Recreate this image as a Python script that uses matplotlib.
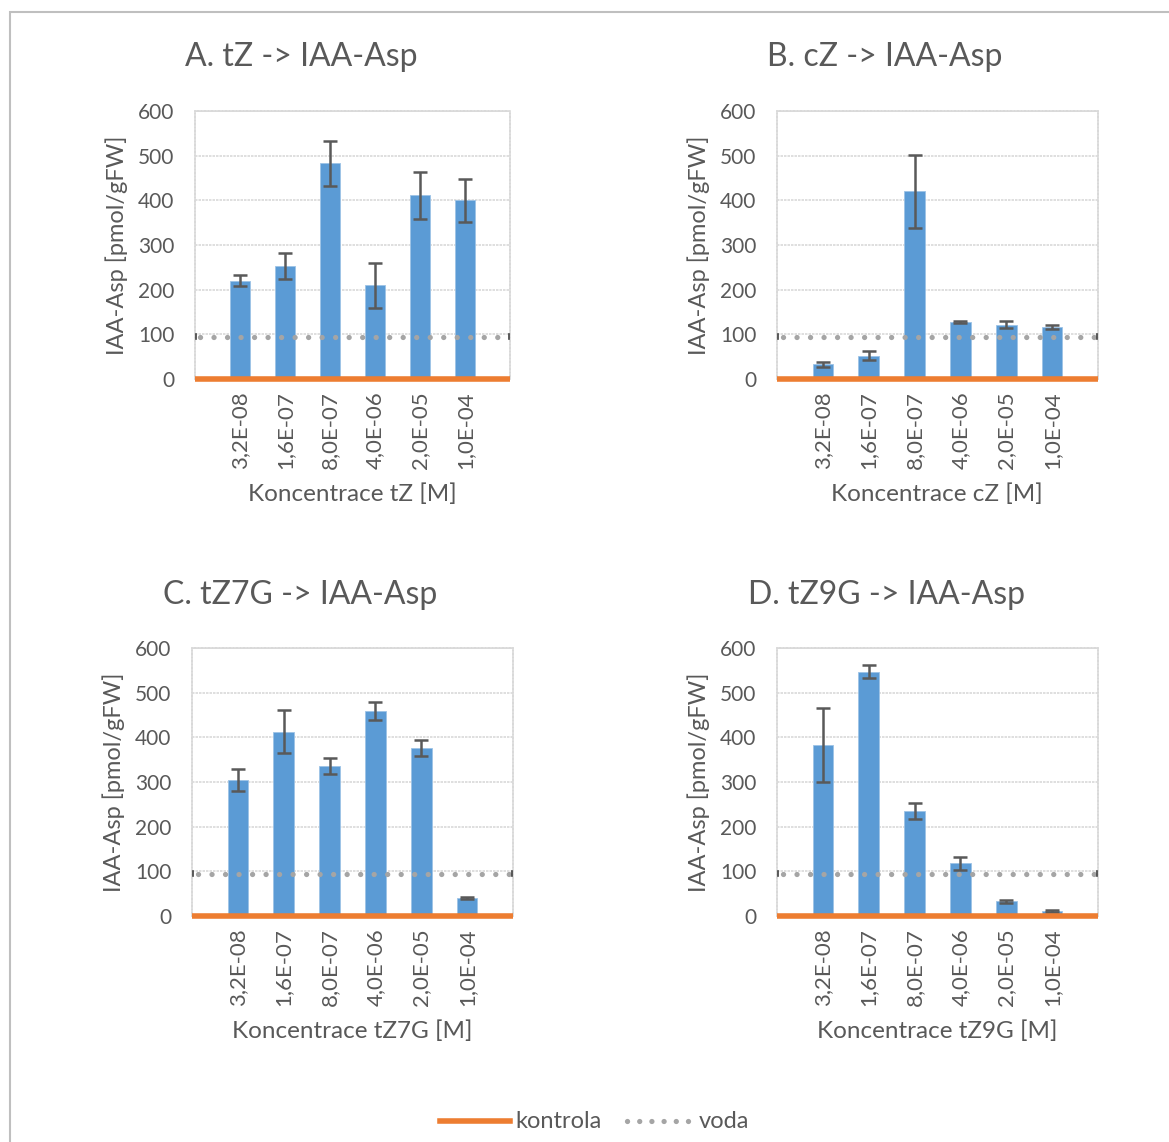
import matplotlib
matplotlib.use("Agg")
import matplotlib.pyplot as plt
from matplotlib.lines import Line2D
from matplotlib.patches import Rectangle

plt.rcParams['font.family'] = ['Lato', 'DejaVu Sans']

categories = ["3,2E-08", "1,6E-07", "8,0E-07", "4,0E-06", "2,0E-05", "1,0E-04"]

titles = ["A. tZ -> IAA-Asp", "B. cZ -> IAA-Asp", "C. tZ7G -> IAA-Asp", "D. tZ9G -> IAA-Asp"]
xlabels = ["Koncentrace tZ [M]", "Koncentrace cZ [M]", "Koncentrace tZ7G [M]", "Koncentrace tZ9G [M]"]

vals_A = [220, 253, 483, 210, 411, 400]
err_A = [12, 30, 50, 50, 52, 48]
vals_B = [33, 52, 420, 127, 122, 117]
err_B = [6, 10, 82, 2, 8, 5]
vals_C = [304, 413, 336, 459, 376, 40]
err_C = [25, 49, 18, 20, 18, 2]
vals_D = [383, 547, 235, 118, 33, 12]
err_D = [82, 14, 18, 15, 3, 2]

kontrola = 0
voda = 95

yticks = [0, 100, 200, 300, 400, 500, 600]

W, H = 1169, 1142
fig = plt.figure(figsize=(W / 100, H / 100), dpi=100)

# outer border
fig.patches.append(Rectangle((10 / W, -0.01), 1.2, (1142 - 12) / H + 0.01, transform=fig.transFigure,
                             fill=False, edgecolor='#BFBFBF', linewidth=1.5))

TXT = '#595959'
DOT = (0, (0.01, 2.55))
panels = [
    (vals_A, err_A, 195, 379, 315, 301, 57, 117, 352, 494),
    (vals_B, err_B, 777, 379, 321, 885, 57, 699, 937, 494),
    (vals_C, err_C, 192, 916, 321, 300, 595, 114, 352, 1031),
    (vals_D, err_D, 777, 916, 321, 886, 595, 699, 937, 1031),
]

for i, (vals, errs, lx, by, w, tx, ty, ylx, xlx, xly) in enumerate(panels):
    ax = fig.add_axes([lx / W, (H - by) / H, w / W, 268 / H])
    xs = list(range(1, len(vals) + 1))
    ax.bar(xs, vals, width=0.45, color='#5B9BD5', edgecolor='#9DC3E6', linewidth=0.6, zorder=3)
    ax.errorbar(xs, vals, yerr=errs, fmt='none', ecolor='#595959', elinewidth=1.8,
                capsize=5, capthick=1.8, zorder=4)
    ax.plot([0.12, 7], [voda, voda], color='#A5A5A5', linestyle=DOT, linewidth=3.8,
            dash_capstyle='round', zorder=5)
    ax.plot([0.02, 0.02], [voda - 6, voda + 6], color='#404040', linewidth=1.2, zorder=5)
    ax.plot([6.98, 6.98], [voda - 6, voda + 6], color='#404040', linewidth=1.2, zorder=5)
    ax.plot([0, 7], [kontrola, kontrola], color='#ED7D31', linewidth=4, solid_capstyle='butt',
            zorder=6, clip_on=False)
    ax.set_xlim(0, 7)
    ax.set_ylim(0, 600)
    ax.set_yticks(yticks)
    ax.set_yticklabels([str(v) for v in yticks], fontsize=15, color=TXT)
    ax.set_xticks(xs)
    ax.set_xticklabels(categories, rotation=90, fontsize=16, color=TXT)
    ax.tick_params(length=0)
    ax.tick_params(axis='y', pad=15)
    ax.tick_params(axis='x', pad=9)
    ax.grid(axis='y', color='#D9D9D9', linewidth=1.2, linestyle=(0, (1.5, 0.6)), zorder=0)
    for s in ax.spines.values():
        s.set_color('#D9D9D9')
        s.set_linewidth(1.2)
        s.set_linestyle((0, (1.5, 0.6)))
    fig.text(tx / W, 1 - ty / H, titles[i], fontsize=23, color=TXT, ha='center', va='center')
    fig.text(ylx / W, 1 - (by - 134) / H, "IAA-Asp [pmol/gFW]", fontsize=17, color=TXT,
             rotation=90, ha='center', va='center')
    fig.text(xlx / W, 1 - xly / H, xlabels[i], fontsize=17.5, color=TXT, ha='center', va='center')

# legend
fig.add_artist(Line2D([440 / W, 510 / W], [1 - 1121 / H] * 2, color='#ED7D31', linewidth=4,
                      transform=fig.transFigure))
fig.text(515 / W, 1 - 1121 / H, "kontrola", fontsize=17, color=TXT, ha='left', va='center')
fig.add_artist(Line2D([627 / W, 697 / W], [1 - 1121 / H] * 2, color='#A5A5A5', linewidth=3.8,
                      linestyle=(0, (0.01, 2.3)), dash_capstyle='round', transform=fig.transFigure))
fig.text(699 / W, 1 - 1121 / H, "voda", fontsize=17, color=TXT, ha='left', va='center')

fig.savefig("out.png", dpi=100, facecolor='white')
